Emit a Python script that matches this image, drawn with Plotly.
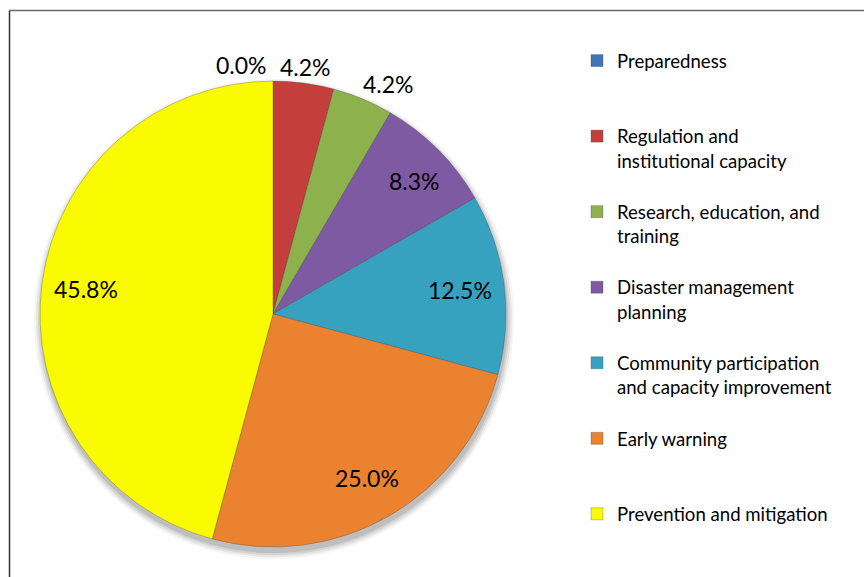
import math
import plotly.graph_objects as go

# Share of measures by category (percent)
categories = [
    "Preparedness",
    "Regulation and institutional capacity",
    "Research, education, and training",
    "Disaster management planning",
    "Community participation and capacity improvement",
    "Early warning",
    "Prevention and mitigation",
]
shares = [0.0, 4.2, 4.2, 8.3, 12.5, 25.0, 45.8]

# Legend wording, wrapped over two lines where needed
legend_lines = [
    ["Preparedness"],
    ["Regulation and", "institutional capacity"],
    ["Research, education, and", "training"],
    ["Disaster management", "planning"],
    ["Community participation", "and capacity improvement"],
    ["Early warning"],
    ["Prevention and mitigation"],
]

colors = ["#3F74B8", "#C43E3B", "#8DB24D", "#7D5AA2", "#37A2C0", "#EA822F", "#FAFA00"]

W, H = 864, 577
FONT = "Lato"

# Pie placement in pixels
CX, CY, R = 273, 314, 233

def dom_x(cx, r):
    return [(cx - r) / W, (cx + r) / W]

def dom_y(cy, r):
    return [1 - (cy + r) / H, 1 - (cy - r) / H]

fig = go.Figure()

# Soft drop shadow beneath the pie
for i, (grow, alpha) in enumerate([(7, 0.04), (5, 0.06), (3, 0.08), (1, 0.10)]):
    fig.add_trace(go.Pie(
        values=[1], labels=["shadow%d" % i], showlegend=False,
        marker=dict(colors=["rgba(0,0,0,%.2f)" % alpha], line=dict(width=0)),
        textinfo="none", hoverinfo="skip", sort=False,
        domain=dict(x=dom_x(CX + 1, R + grow), y=dom_y(CY + 5, R + grow)),
    ))

# Legend text: every entry but the last occupies the same three-line slot
legend_text = []
for k, lines in enumerate(legend_lines):
    padded = lines if k == len(legend_lines) - 1 else lines + [" "] * (3 - len(lines))
    legend_text.append("<br>".join(padded))

fig.add_trace(go.Pie(
    labels=legend_text,
    values=shares,
    sort=False,
    direction="clockwise",
    rotation=0,
    marker=dict(colors=colors, line=dict(color="rgba(70,70,70,0.45)", width=0.7)),
    textinfo="none",
    hovertext=categories,
    hoverinfo="text+percent",
    domain=dict(x=dom_x(CX, R), y=dom_y(CY, R)),
))

# Percentage labels placed at each slice's mid angle
total = sum(shares)
inside = [False, False, False, True, True, True, True]
anchors = ["right", "center", "left", "center", "center", "center", "center"]
shifts = [-4, 0, -8, 8, 0, 0, 0]
cum = 0.0
for val, ins, anc, sh in zip(shares, inside, anchors, shifts):
    mid = (cum + val / 2) / total * 2 * math.pi
    cum += val
    rr = R * (0.81 if ins else 1.07)
    px = CX + rr * math.sin(mid)
    py = CY - rr * math.cos(mid)
    fig.add_annotation(
        x=px / W, y=1 - py / H, xref="paper", yref="paper",
        text="%.1f%%" % val, showarrow=False,
        xanchor=anc, yanchor="middle", xshift=sh,
        font=dict(family=FONT, size=23, color="#000000"),
    )

# Chart frame (top and left edges)
fig.add_shape(type="line", xref="paper", yref="paper",
              x0=9.5 / W, x1=1.0, y0=1 - 10.5 / H, y1=1 - 10.5 / H,
              line=dict(color="#6a6a6a", width=1.5))
fig.add_shape(type="line", xref="paper", yref="paper",
              x0=9.5 / W, x1=9.5 / W, y0=0, y1=1 - 10.5 / H,
              line=dict(color="#333333", width=1.5))

fig.update_layout(
    width=W, height=H,
    margin=dict(l=0, r=0, t=0, b=0),
    paper_bgcolor="#ffffff",
    plot_bgcolor="#ffffff",
    showlegend=True,
    legend=dict(
        x=577 / W, y=1 - 42 / H, xanchor="left", yanchor="top",
        valign="top", traceorder="normal",
        font=dict(family=FONT, size=18.6, color="#000000"),
        bgcolor="rgba(0,0,0,0)",
    ),
)

fig.write_html("out.html")
